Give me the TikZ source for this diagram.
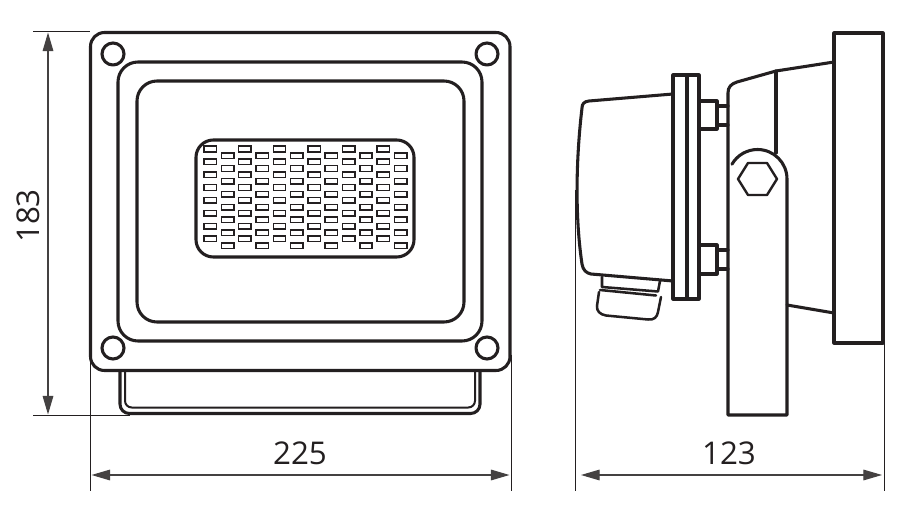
\documentclass[tikz,border=0pt]{standalone}
\usepackage{fontspec}
\setmainfont{Open Sans}
\usetikzlibrary{arrows.meta}
\definecolor{ink}{HTML}{231F20}
\tikzset{
  heavy/.style={draw=ink,line width=2.3pt,line join=round,line cap=round},
  medium/.style={draw=ink,line width=1.5pt,line join=round},
  thin ext/.style={draw=ink,line width=0.75pt},
  dimline/.style={draw=ink!85,line width=0.85pt,{Triangle[length=14pt,width=8pt]}-{Triangle[length=14pt,width=8pt]}},
  dimtext/.style={text=ink,font=\fontsize{23.5}{24}\selectfont,inner sep=0pt},
  led/.style={draw=ink,line width=1.1pt,minimum width=0pt},
}
\begin{document}
\begin{tikzpicture}[x=0.75pt,y=-0.75pt]
\useasboundingbox (0,0) rectangle (900,520);
\fill[white] (0,0) rectangle (900,520);
% ---- front view
\draw[heavy,rounded corners=10.5pt] (90.5,32.5) rectangle (510,370.5);
\draw[heavy,rounded corners=15pt] (118,62) rectangle (482,341);
\draw[heavy,rounded corners=15pt] (137,81) rectangle (464,322);
\foreach \cx/\cy in {113/54,487/54,113/348,487/348}
  \draw[heavy] (\cx,\cy) circle[radius=11];
% lower part
\draw[heavy,rounded corners=7pt] (120,371) -- (120,413.5) -- (480,413.5) -- (480,371);
\draw[medium,rounded corners=5pt] (125,371) -- (125,407.5) -- (475,407.5) -- (475,371);
% LED panel
\draw[heavy,rounded corners=13pt] (196,140) rectangle (414,257);
\foreach \i in {0,...,5}{
  \foreach \j in {0,...,7}{
    \pgfmathsetmacro{\ax}{210.3+34.6*\i}
    \pgfmathsetmacro{\ay}{149+12.85*\j}
    \draw[led] (\ax-6.2,\ay-2.8) rectangle (\ax+6.2,\ay+2.8);
    \pgfmathsetmacro{\bx}{227.6+34.6*\i}
    \pgfmathsetmacro{\by}{155.7+12.85*\j}
    \draw[led] (\bx-6.2,\by-2.8) rectangle (\bx+6.2,\by+2.8);
  }
}
% ---- side view
% back plate
\draw[heavy] (834,33) rectangle (883,343);
% rear body
\draw[heavy] (834,62) -- (776,71) -- (737,82) .. controls (731,84) and (728,87) .. (728,93) -- (728,415) -- (787,415) -- (787,179)
  arc[start angle=0,end angle=-150,radius=29.5];
\draw[heavy] (776,71) -- (776,153);
\draw[heavy] (787,305) -- (834,313);
% hexagon
\draw[medium,line width=1.8pt] (738,179) -- (748,163) -- (767,163) -- (777,179) -- (767,195) -- (748,195) -- cycle;
% flange
\draw[heavy] (673,75) rectangle (699,299);
\draw[heavy] (687,75) -- (687,299);
% bolts
\draw[heavy] (699,101) rectangle (717,129);
\draw[heavy] (717,106) -- (728,106) (717,125) -- (728,125);
\draw[heavy] (699,245) rectangle (717,274);
\draw[heavy] (717,250) -- (728,250) (717,269) -- (728,269);
% housing
\draw[heavy] (673,94) -- (589,101) .. controls (584,101.5) and (582,104) .. (582,108)
  .. controls (577,150) and (574,210) .. (582,264) .. controls (583,270) and (586,273) .. (591,274) -- (673,281);
% cable gland
\draw[heavy,line width=1.9pt] (602,277) -- (602,287) -- (658,291.5) -- (660,281);
\draw[heavy,line width=1.9pt] (600,290) -- (656,295.5);
\draw[heavy,line width=1.9pt] (599,292) -- (597,306) .. controls (596.5,311) and (600,314.5) .. (606,315.5)
  -- (648,319.5) .. controls (654,320) and (657,317.5) .. (658,312) -- (661,297);
% ---- dimensions
\coordinate (tl) at (33,32);
\coordinate (tr) at (90,32);
\coordinate (bl) at (33,415);
\coordinate (br) at (130,415);
\draw[thin ext] (tl) -- (tr);
\draw[thin ext] (bl) -- (br);
\coordinate (vt) at (48,32.5);
\coordinate (vb) at (48,414.5);
\draw[dimline] (vt) -- (vb);
\coordinate (e1) at (90,355);
\coordinate (e1b) at (90,491);
\coordinate (e2) at (511,355);
\coordinate (e2b) at (511,491);
\draw[thin ext] (e1) -- (e1b);
\draw[thin ext] (e2) -- (e2b);
\coordinate (ha) at (91.5,475);
\coordinate (hb) at (509.5,475);
\draw[dimline] (ha) -- (hb);
\coordinate (e3) at (575,190);
\coordinate (e3b) at (575,491);
\coordinate (e4) at (884,343);
\coordinate (e4b) at (884,491);
\draw[thin ext] (e3) -- (e3b);
\draw[thin ext] (e4) -- (e4b);
\coordinate (sa) at (581,475);
\coordinate (sb) at (882,475);
\draw[dimline] (sa) -- (sb);
\node[dimtext] (w) at (300,453) {225};
\node[dimtext] (d) at (729,453) {123};
\node[dimtext,rotate=90] (h) at (28,216) {183};
\end{tikzpicture}
\end{document}
